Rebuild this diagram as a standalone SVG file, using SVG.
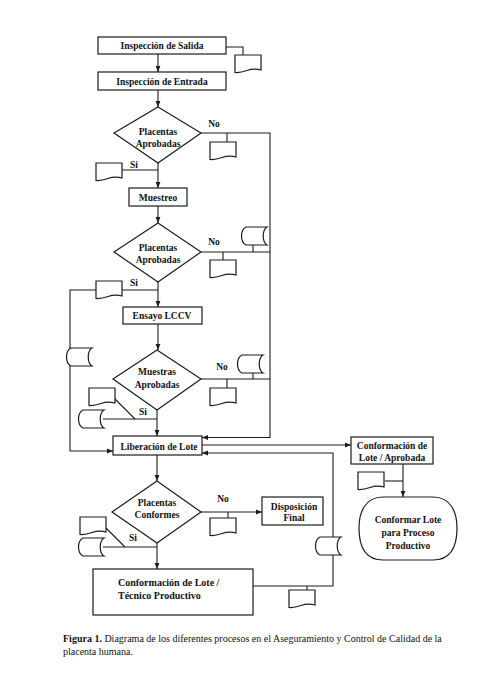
<svg xmlns="http://www.w3.org/2000/svg" xmlns:xlink="http://www.w3.org/1999/xlink" width="504" height="677" viewBox="0 0 504 677">
<style>
.ln{fill:none;stroke:#1c1c1c;stroke-width:1.1}
.bx{fill:#fff;stroke:#1c1c1c;stroke-width:1.2}
.t{font-family:"Liberation Serif","Times New Roman",serif;font-weight:bold;font-size:9.5px;fill:#111;text-anchor:middle}
.tl{font-family:"Liberation Serif","Times New Roman",serif;font-weight:bold;font-size:10px;fill:#111}
.cap{font-family:"Liberation Serif","Times New Roman",serif;font-size:10px;fill:#111}
</style>
<defs>
<marker id="ah" viewBox="0 0 10 10" refX="10" refY="5" markerWidth="6" markerHeight="6" markerUnits="userSpaceOnUse" orient="auto"><path d="M0,1 L10,5 L0,9 Z" fill="#1c1c1c"/></marker>
<path id="doc" class="bx" d="M0,0 H26 V15 Q19,13 12,15.5 Q5,18 0,17.5 Z"/>
<path id="cyl" class="bx" d="M6,0 H27 C22,3 22,15 27,18 H6 C0,15 0,3 6,0 Z"/>
</defs>
<rect width="504" height="677" fill="#fff"/>
<g id="connectors">
<path class="ln" d="M158,54 V72" marker-end="url(#ah)"/>
<path class="ln" d="M226,47 H243 V55"/>
<path class="ln" d="M158,90 V107" marker-end="url(#ah)"/>
<path class="ln" d="M201,133 H270 V437.5 H202" marker-end="url(#ah)"/>
<path class="ln" d="M227,133 V142"/>
<path class="ln" d="M158,170 H122"/>
<path class="ln" d="M158,163 V188" marker-end="url(#ah)"/>
<path class="ln" d="M158,206 V223" marker-end="url(#ah)"/>
<path class="ln" d="M201,252 H270"/>
<path class="ln" d="M253,252 V245"/>
<path class="ln" d="M223,252 V260"/>
<path class="ln" d="M158,290 H70 V451 H113" marker-end="url(#ah)"/>
<path class="ln" d="M158,282 V307" marker-end="url(#ah)"/>
<path class="ln" d="M158,324 V350" marker-end="url(#ah)"/>
<path class="ln" d="M201,379 H270"/>
<path class="ln" d="M253,379 V372"/>
<path class="ln" d="M227,379 V388"/>
<path class="ln" d="M103,419 H157"/>
<path class="ln" d="M114,398 L135,419"/>
<path class="ln" d="M157,410 V436" marker-end="url(#ah)"/>
<path class="ln" d="M202,445 H351" marker-end="url(#ah)"/>
<path class="ln" d="M157,455 V481" marker-end="url(#ah)"/>
<path class="ln" d="M201,512 H262" marker-end="url(#ah)"/>
<path class="ln" d="M228,512 V518"/>
<path class="ln" d="M103,547 H157"/>
<path class="ln" d="M105,527 L125,547"/>
<path class="ln" d="M157,543 V569" marker-end="url(#ah)"/>
<path class="ln" d="M253,586 H333 V453 H202" marker-end="url(#ah)"/>
<path class="ln" d="M307,586 V590"/>
<path class="ln" d="M403,464 V497" marker-end="url(#ah)"/>
<path class="ln" d="M385,481 H403"/>
</g>
<g id="inspeccion-salida"><rect class="bx" x="98" y="37" width="128" height="17"/><text class="t" x="162" y="49">Inspección de Salida</text></g>
<g id="doc-salida"><use xlink:href="#doc" x="235" y="55"/></g>
<g id="inspeccion-entrada"><rect class="bx" x="98" y="72" width="128" height="18"/><text class="t" x="162" y="85">Inspección de Entrada</text></g>
<g id="placentas-aprobadas-1"><path class="bx" d="M158,107 L201,133 L158,163 L114,133 Z"/><text class="t" x="158" y="135">Placentas</text><text class="t" x="158" y="147">Aprobadas</text></g>
<g id="no-1"><text class="t" x="214" y="127">No</text></g>
<g id="doc-no-1"><use xlink:href="#doc" x="210" y="142"/></g>
<g id="si-1"><text class="t" x="134" y="168">Si</text></g>
<g id="doc-si-1"><use xlink:href="#doc" x="96" y="163"/></g>
<g id="muestreo"><rect class="bx" x="129" y="188" width="58" height="18"/><text class="t" x="158" y="201">Muestreo</text></g>
<g id="placentas-aprobadas-2"><path class="bx" d="M158,223 L201,252 L158,282 L114,252 Z"/><text class="t" x="158" y="251">Placentas</text><text class="t" x="158" y="263">Aprobadas</text></g>
<g id="no-2"><text class="t" x="214" y="245">No</text></g>
<g id="cyl-no-2"><use xlink:href="#cyl" x="240" y="227"/></g>
<g id="doc-no-2"><use xlink:href="#doc" x="210" y="260"/></g>
<g id="si-2"><text class="t" x="134" y="286">Si</text></g>
<g id="doc-si-2"><use xlink:href="#doc" x="96" y="281"/></g>
<g id="ensayo-lccv"><rect class="bx" x="123" y="307" width="79" height="17"/><text class="t" x="162" y="319">Ensayo LCCV</text></g>
<g id="cyl-left"><use xlink:href="#cyl" x="65" y="348"/></g>
<g id="muestras-aprobadas"><path class="bx" d="M157,350 L201,379 L157,410 L113,379 Z"/><text class="t" x="157" y="375">Muestras</text><text class="t" x="157" y="388">Aprobadas</text></g>
<g id="no-3"><text class="t" x="222" y="370">No</text></g>
<g id="cyl-no-3"><use xlink:href="#cyl" x="236" y="355"/></g>
<g id="doc-no-3"><use xlink:href="#doc" x="210" y="388"/></g>
<g id="si-3"><text class="t" x="143" y="415">Si</text></g>
<g id="doc-si-3"><use xlink:href="#doc" x="89" y="388"/></g>
<g id="cyl-si-3"><use xlink:href="#cyl" x="77" y="410"/></g>
<g id="liberacion-lote"><rect class="bx" x="113" y="436" width="89" height="19"/><text class="t" x="159" y="450">Liberación de Lote</text></g>
<g id="conformacion-aprobada"><rect class="bx" x="351" y="437" width="82" height="27"/><text class="t" x="392" y="449">Conformación de</text><text class="t" x="392" y="461">Lote / Aprobada</text></g>
<g id="doc-aprobada"><use xlink:href="#doc" x="358" y="472"/></g>
<g id="conformar-lote"><path class="bx" d="M383,497 H433 C452,497 457,514 457,528 C457,545 452,560 433,560 H383 C364,560 359,545 359,528 C359,514 364,497 383,497 Z"/><text class="t" x="408" y="523">Conformar Lote</text><text class="t" x="408" y="536">para Proceso</text><text class="t" x="408" y="549">Productivo</text></g>
<g id="placentas-conformes"><path class="bx" d="M157,481 L201,512 L157,543 L112,512 Z"/><text class="t" x="157" y="506">Placentas</text><text class="t" x="157" y="518">Conformes</text></g>
<g id="no-4"><text class="t" x="223" y="502">No</text></g>
<g id="doc-no-4"><use xlink:href="#doc" x="210" y="518"/></g>
<g id="disposicion-final"><rect class="bx" x="262" y="497" width="61" height="28"/><text class="t" x="294" y="510">Disposición</text><text class="t" x="294" y="521">Final</text></g>
<g id="si-4"><text class="t" x="133" y="541">Si</text></g>
<g id="doc-si-4"><use xlink:href="#doc" x="80" y="517"/></g>
<g id="cyl-si-4"><use xlink:href="#cyl" x="77" y="538"/></g>
<g id="cyl-right"><use xlink:href="#cyl" x="314" y="537"/></g>
<g id="conformacion-tecnico"><rect class="bx" x="93" y="569" width="160" height="46"/><text class="tl" x="118" y="586">Conformación de Lote /</text><text class="tl" x="118" y="599">Técnico Productivo</text></g>
<g id="doc-tecnico"><use xlink:href="#doc" x="289" y="590"/></g>
<g id="caption"><text class="cap" x="63" y="642"><tspan font-weight="bold">Figura 1.</tspan> Diagrama de los diferentes procesos en el Aseguramiento y Control de Calidad de la</text><text class="cap" x="63" y="655">placenta humana.</text></g>
</svg>
